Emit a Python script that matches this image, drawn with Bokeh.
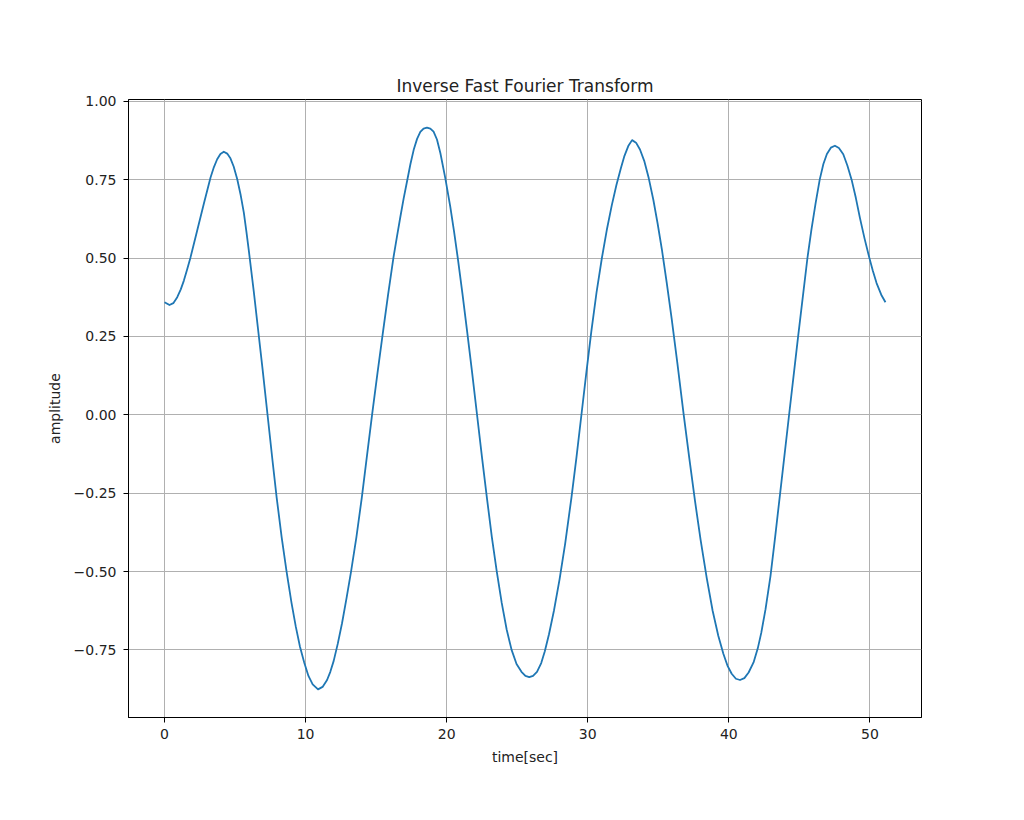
from bokeh.plotting import figure
from bokeh.models import Range1d, FixedTicker, ColumnDataSource
from bokeh.embed import file_html
from bokeh.resources import INLINE

# Values (time in seconds, amplitude)
time_sec = [0.0, 0.35, 0.62, 0.9, 1.15, 1.37, 1.6, 1.84, 2.31, 2.78, 3.26, 3.5, 3.73, 3.96,
            4.2, 4.44, 4.67, 4.9, 5.15, 5.4, 5.62, 5.8, 5.97, 6.32, 6.61, 6.95, 7.3, 7.65,
            7.95, 8.3, 8.65, 9.0, 9.3, 9.6, 9.9, 10.2, 10.5, 10.88, 11.2, 11.52, 11.75,
            11.99, 12.28, 12.58, 12.9, 13.22, 13.6, 13.98, 14.35, 14.71, 15.1, 15.47, 15.85,
            16.22, 16.48, 16.71, 16.95, 17.19, 17.43, 17.66, 17.9, 18.13, 18.36, 18.6, 18.84,
            19.07, 19.31, 19.55, 19.9, 20.25, 20.52, 20.8, 21.12, 21.45, 21.8, 22.15, 22.5,
            22.85, 23.2, 23.55, 23.9, 24.25, 24.6, 24.95, 25.3, 25.58, 25.85, 26.12, 26.4,
            26.7, 26.95, 27.25, 27.6, 28.0, 28.4, 28.84, 29.2, 29.55, 29.9, 30.25, 30.62,
            31.0, 31.35, 31.7, 32.03, 32.35, 32.6, 32.87, 33.14, 33.42, 33.7, 34.0, 34.32,
            34.65, 34.95, 35.26, 35.6, 35.95, 36.35, 36.8, 37.2, 37.6, 38.0, 38.43, 38.85,
            39.25, 39.61, 39.9, 40.2, 40.5, 40.79, 41.1, 41.4, 41.75, 42.05, 42.3, 42.6,
            42.95, 43.28, 43.61, 43.94, 44.27, 44.59, 44.91, 45.24, 45.57, 45.85, 46.15,
            46.44, 46.7, 46.95, 47.23, 47.52, 47.8, 48.11, 48.4, 48.7, 49.0, 49.29, 49.62,
            49.95, 50.2, 50.47, 50.8, 51.1]
amplitude = [0.359, 0.350, 0.356, 0.375, 0.40, 0.428, 0.463, 0.502, 0.587, 0.672, 0.757,
             0.79, 0.815, 0.832, 0.839, 0.833, 0.818, 0.792, 0.752, 0.70, 0.645, 0.585,
             0.525, 0.395, 0.28, 0.145, 0.0, -0.145, -0.265, -0.39, -0.5, -0.6, -0.675,
             -0.74, -0.79, -0.833, -0.86, -0.876, -0.868, -0.846, -0.82, -0.785, -0.73,
             -0.665, -0.585, -0.5, -0.39, -0.265, -0.13, 0.0, 0.135, 0.26, 0.385, 0.5, 0.57,
             0.63, 0.69, 0.745, 0.80, 0.845, 0.88, 0.902, 0.913, 0.916, 0.913, 0.903, 0.878,
             0.835, 0.755, 0.665, 0.585, 0.495, 0.385, 0.265, 0.135, 0.0, -0.135, -0.265,
             -0.39, -0.5, -0.6, -0.685, -0.75, -0.795, -0.82, -0.833, -0.837, -0.833, -0.82,
             -0.792, -0.755, -0.70, -0.625, -0.525, -0.41, -0.265, -0.135, 0.0, 0.135,
             0.265, 0.39, 0.5, 0.59, 0.668, 0.733, 0.787, 0.826, 0.857, 0.876, 0.868, 0.846,
             0.81, 0.755, 0.685, 0.61, 0.525, 0.42, 0.305, 0.165, 0.0, -0.14, -0.275, -0.4,
             -0.52, -0.625, -0.705, -0.762, -0.80, -0.826, -0.842, -0.846, -0.84, -0.822,
             -0.79, -0.745, -0.695, -0.62, -0.515, -0.39, -0.26, -0.13, 0.0, 0.125, 0.25,
             0.375, 0.5, 0.59, 0.675, 0.75, 0.80, 0.832, 0.852, 0.858, 0.851, 0.831, 0.795,
             0.75, 0.692, 0.628, 0.562, 0.502, 0.46, 0.42, 0.383, 0.359]

x_ticks = [0, 10, 20, 30, 40, 50]
y_ticks = [-0.75, -0.5, -0.25, 0.0, 0.25, 0.5, 0.75, 1.0]
y_tick_labels = ["\u22120.75", "\u22120.50", "\u22120.25", "0.00", "0.25", "0.50", "0.75", "1.00"]

title_text = "Inverse Fast Fourier Transform"
x_label = "time[sec]"
y_label = "amplitude"

FONT = "DejaVu Sans"
TEXT = "#222222"

xmin, xmax = min(time_sec), max(time_sec)
ymin, ymax = min(amplitude), max(amplitude)
xpad = 0.05 * (xmax - xmin)
ypad = 0.05 * (ymax - ymin)

p = figure(width=1008, height=804, output_backend="svg", toolbar_location=None,
           x_range=Range1d(xmin - xpad, xmax + xpad),
           y_range=Range1d(ymin - ypad, ymax + ypad),
           min_border_left=128, min_border_right=87, min_border_top=99, min_border_bottom=87)

p.title.text = title_text
p.title.align = "center"
p.title.text_font = FONT
p.title.text_font_size = "17px"
p.title.text_font_style = "normal"
p.title.text_color = TEXT
p.title.standoff = 8

src = ColumnDataSource(dict(t=time_sec, a=amplitude))
p.line("t", "a", source=src, line_color="#1f77b4", line_width=1.8, line_join="round")

p.xaxis.ticker = FixedTicker(ticks=x_ticks)
p.yaxis.ticker = FixedTicker(ticks=y_ticks)
p.yaxis.major_label_overrides = {t: l for t, l in zip(y_ticks, y_tick_labels)}
p.xaxis.major_label_overrides = {t: str(t) for t in x_ticks}

for ax in (p.xaxis[0], p.yaxis[0]):
    ax.axis_line_color = "black"
    ax.axis_line_width = 1
    ax.major_tick_line_color = "black"
    ax.major_tick_line_width = 1
    ax.major_tick_out = 5
    ax.major_tick_in = 0
    ax.minor_tick_line_color = None
    ax.major_label_text_font = FONT
    ax.major_label_text_font_size = "14px"
    ax.major_label_text_color = TEXT
    ax.axis_label_text_font = FONT
    ax.axis_label_text_font_size = "14px"
    ax.axis_label_text_font_style = "normal"
    ax.axis_label_text_color = TEXT

p.xaxis.major_label_standoff = 6
p.yaxis.major_label_standoff = 7
p.xaxis.axis_label = x_label
p.yaxis.axis_label = y_label
p.xaxis.axis_label_standoff = 7
p.yaxis.axis_label_standoff = 8

p.grid.grid_line_color = "#b0b0b0"
p.grid.grid_line_width = 1
p.outline_line_color = "black"
p.outline_line_width = 1
p.outline_line_alpha = 1
p.background_fill_color = "white"
p.border_fill_color = "white"

open("out.html", "w").write(file_html(p, INLINE))
